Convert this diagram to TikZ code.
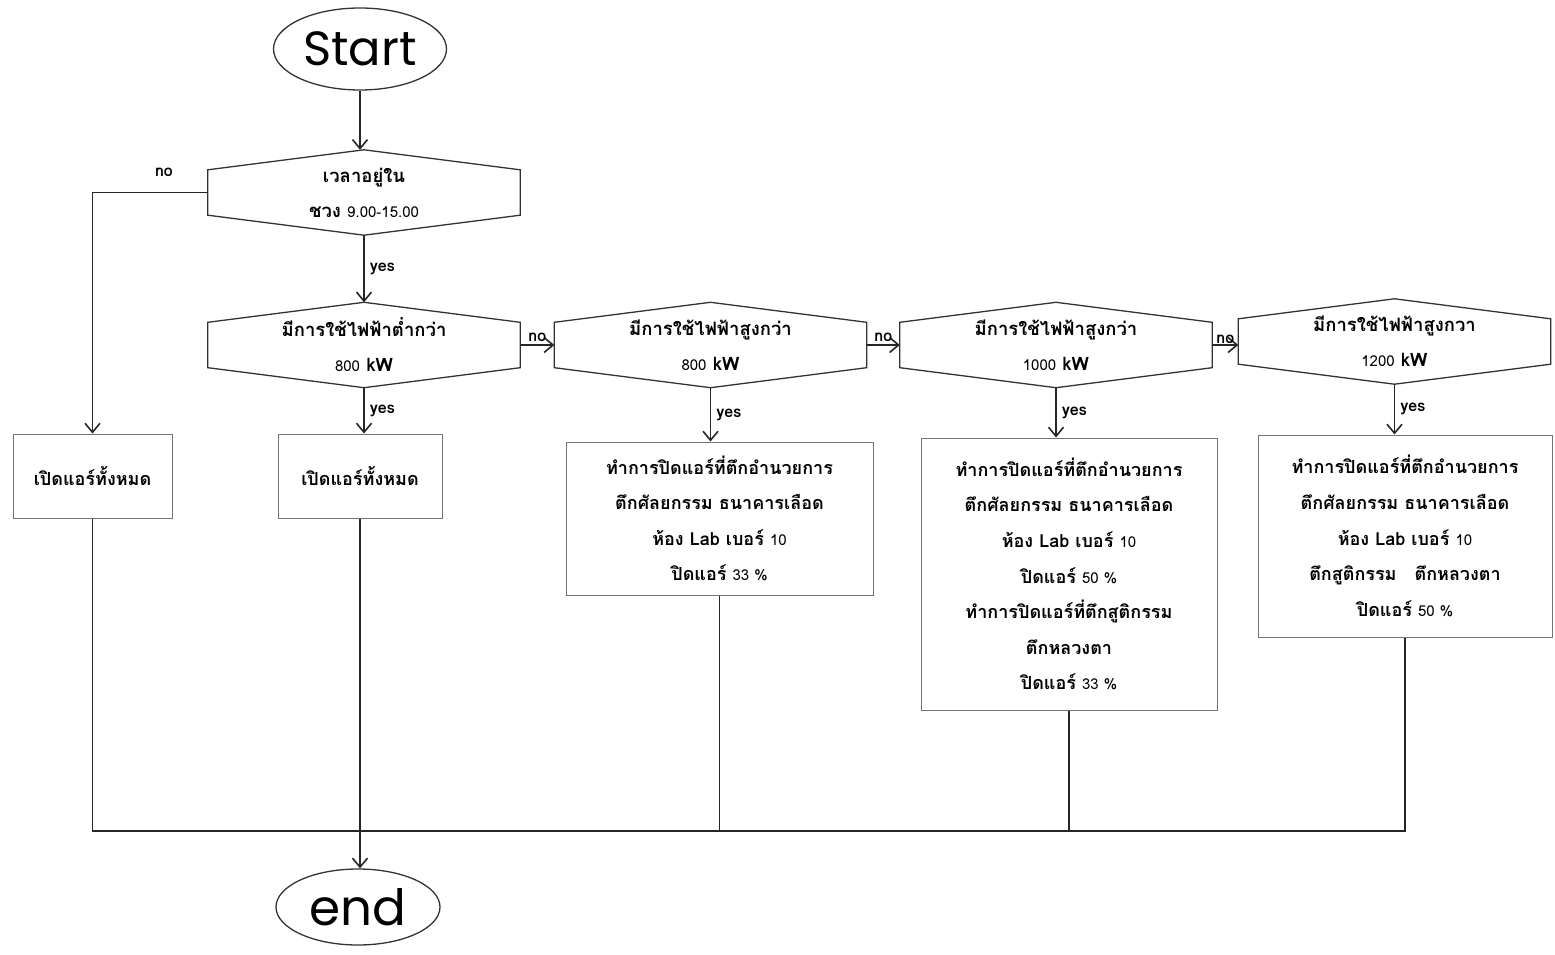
\documentclass[tikz,border=0pt]{standalone}
\usepackage{fontspec}
\setmainfont{Liberation Sans}
\newfontfamily\thaifont[Script=Thai]{Loma}
\newfontfamily\roundfont{Poppins}
\usetikzlibrary{arrows.meta,shapes.geometric}
\newcommand\smalldigits[1]{{\mdseries\fontsize{15}{15}\selectfont #1}}
\tikzset{
  flow/.style={line width=1.8pt, draw=black!85},
  arr/.style={flow, -{Straight Barb[length=9pt,width=15pt,line width=1.6pt]}},
  hexline/.style={line width=1.3pt, draw=black!80},
  term/.style={ellipse, draw=black!80, line width=1.3pt, inner sep=0pt},
  decision/.style={rectangle, minimum width=312pt, minimum height=85pt, inner sep=0pt,
    align=center, font=\thaifont\bfseries\fontsize{18.5}{35}\selectfont},
  action/.style={rectangle, draw=black!55, line width=1pt, inner sep=0pt, align=center,
    font=\thaifont\bfseries\fontsize{18}{35.6}\selectfont},
  lbl/.style={font=\thaifont\bfseries\fontsize{16}{16}\selectfont, inner sep=1pt},
}
\begin{document}
\begin{tikzpicture}[x=1pt,y=-1pt]
\useasboundingbox (0,0) rectangle (1555,955);

% terminals
\node[term, minimum width=173pt, minimum height=82pt,
  font=\roundfont\fontsize{48}{48}\selectfont] (start) at (360,49) {Start};
\node[term, minimum width=164pt, minimum height=76pt,
  font=\roundfont\fontsize{50}{50}\selectfont] (end) at (358,907) {end};

% decisions (outline drawn below as hexagons)
\node[decision] (d1) at (364,192.5) {เวลาอยู่ใน\\ชวง \smalldigits{9.00-15.00}};
\node[decision] (d2) at (364,345) {มีการใช้ไฟฟ้าต่ำกว่า\\\smalldigits{800} kW};
\node[decision] (d3) at (710.5,345) {มีการใช้ไฟฟ้าสูงกว่า\\\smalldigits{800} kW};
\node[decision] (d4) at (1056,345) {มีการใช้ไฟฟ้าสูงกว่า\\\smalldigits{1000} kW};
\node[decision] (d5) at (1394.5,341.5) {มีการใช้ไฟฟ้าสูงกวา\\\smalldigits{1200} kW};

\foreach \n in {d1,d2,d3,d4,d5}
  \draw[hexline] (\n.north) -- ([yshift=-20pt]\n.north east) -- ([yshift=20pt]\n.south east)
    -- (\n.south) -- ([yshift=20pt]\n.south west) -- ([yshift=-20pt]\n.north west) -- cycle;

% actions
\node[action, minimum width=159pt, minimum height=84pt] (b1) at (92.5,476) {เปิดแอร์ทั้งหมด};
\node[action, minimum width=164pt, minimum height=84pt] (b2) at (360,476) {เปิดแอร์ทั้งหมด};
\node[action, minimum width=307pt, minimum height=153pt] (b3) at (719.5,518.5)
  {ทำการปิดแอร์ที่ตึกอำนวยการ\\ตึกศัลยกรรม ธนาคารเลือด\\ห้อง Lab เบอร์ \smalldigits{10}\\ปิดแอร์ \smalldigits{33 \%}};
\node[action, minimum width=296pt, minimum height=272pt] (b4) at (1069,574)
  {ทำการปิดแอร์ที่ตึกอำนวยการ\\ตึกศัลยกรรม ธนาคารเลือด\\ห้อง Lab เบอร์ \smalldigits{10}\\ปิดแอร์ \smalldigits{50 \%}\\ทำการปิดแอร์ที่ตึกสูติกรรม\\ตึกหลวงตา\\ปิดแอร์ \smalldigits{33 \%}};
\node[action, minimum width=294pt, minimum height=202pt] (b5) at (1405,536)
  {ทำการปิดแอร์ที่ตึกอำนวยการ\\ตึกศัลยกรรม ธนาคารเลือด\\ห้อง Lab เบอร์ \smalldigits{10}\\ตึกสูติกรรม\quad ตึกหลวงตา\\ปิดแอร์ \smalldigits{50 \%}};

% connectors
\draw[arr] (start.south) -- (start.south |- d1.north);
\draw[arr] (d1.west) -| (b1.north) node[lbl, pos=0.19, above=14pt] {no};
\draw[arr] (d1.south) -- (d2.north) node[lbl, midway, right=4pt] {yes};
\draw[arr] (d2.east) -- (d3.west) node[lbl, midway, above=2pt] {no};
\draw[arr] (d3.east) -- (d4.west) node[lbl, midway, above=2pt] {no};
\draw[arr] (d4.east) -- (d4.east -| d5.west) node[lbl, midway, above=0pt] {no};
\draw[arr] (d2.south) -- (d2.south |- b2.north) node[lbl, midway, right=4pt] {yes};
\draw[arr] (d3.south) -- (d3.south |- b3.north) node[lbl, midway, right=4pt] {yes};
\draw[arr] (d4.south) -- (d4.south |- b4.north) node[lbl, midway, right=4pt] {yes};
\draw[arr] (d5.south) -- (d5.south |- b5.north) node[lbl, midway, right=4pt] {yes};

% collecting line to the end terminal
\coordinate (bus) at (0,831);
\draw[flow] (b1.south) -- (b1.south |- bus) -- (b5.south |- bus) -- (b5.south);
\draw[flow] (b3.south) -- (b3.south |- bus);
\draw[flow] (b4.south) -- (b4.south |- bus);
\draw[arr] (b2.south) -- (b2.south |- end.north);
\end{tikzpicture}
\end{document}
